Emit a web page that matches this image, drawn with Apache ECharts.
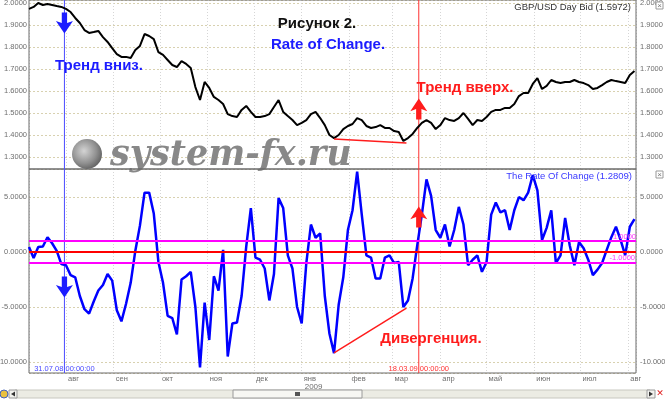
<!DOCTYPE html>
<html>
<head>
<meta charset="utf-8">
<script src="https://cdn.jsdelivr.net/npm/echarts@6/dist/echarts.min.js"></script>
<style>
html, body { margin: 0; padding: 0; background: #fff; }
#chart { width: 665px; height: 400px; }
</style>
</head>
<body>
<div id="chart"></div>
<script>
// one point every 3 calendar days starting 08.07.2008
const startDay = [2008, 6, 8]
const stepDays = 3

const priceValues = [
  1.973, 1.982, 2.000, 1.991, 1.995, 1.991, 1.986, 1.982, 1.973, 1.959,
  1.932, 1.909, 1.877, 1.864, 1.868, 1.873, 1.845, 1.823, 1.795, 1.768,
  1.755, 1.755, 1.750, 1.786, 1.805, 1.859, 1.850, 1.836, 1.777, 1.764,
  1.741, 1.718, 1.709, 1.736, 1.723, 1.705, 1.618, 1.559, 1.641, 1.614,
  1.573, 1.559, 1.541, 1.495, 1.486, 1.482, 1.514, 1.532, 1.505, 1.482,
  1.482, 1.486, 1.495, 1.527, 1.559, 1.505, 1.486, 1.468, 1.445, 1.455,
  1.468, 1.495, 1.505, 1.477, 1.445, 1.400, 1.386, 1.400, 1.427, 1.441,
  1.450, 1.477, 1.468, 1.441, 1.432, 1.436, 1.445, 1.432, 1.432, 1.418,
  1.414, 1.373, 1.386, 1.405, 1.432, 1.455, 1.468, 1.455, 1.427, 1.445,
  1.477, 1.468, 1.464, 1.477, 1.500, 1.473, 1.445, 1.468, 1.464, 1.482,
  1.505, 1.514, 1.514, 1.523, 1.523, 1.541, 1.577, 1.591, 1.591, 1.632,
  1.659, 1.609, 1.623, 1.650, 1.641, 1.636, 1.641, 1.641, 1.650, 1.641,
  1.636, 1.627, 1.609, 1.614, 1.627, 1.641, 1.650, 1.645, 1.641, 1.636,
  1.673, 1.691
]

const rocValues = [
  0.45, -0.55, 0.45, 0.5, 1.35, 0.8, 0.1, -1.1, -1.2, -2.1,
  -2.3, -4.0, -5.2, -5.6, -4.5, -3.5, -3.0, -2.0, -2.6, -5.3,
  -6.3, -4.7, -2.8, 0.1, 2.4, 5.4, 5.4, 3.5, -0.9, -2.8,
  -5.8, -6.0, -7.5, -2.5, -2.2, -1.8, -5.0, -10.5, -4.6, -8.0,
  -2.2, -3.5, 0.2, -9.5, -6.5, -6.4, -4.0, 0.5, 4.0, -0.5,
  -0.7, -1.5, -4.4, -2.0, 4.9, 4.0, -0.3, -1.5, -5.0, -6.5,
  -1.0, 2.5, 1.3, 1.7, -4.0, -7.4, -9.2, -4.8, -2.3, 2.0,
  3.8, 7.3, 3.4, -0.3, -0.5, -2.4, -2.4, -0.5, -0.3, -1.0,
  -0.9, -5.0, -4.4, -2.4, 0.6, 3.4, 6.6, 5.1, 2.0, 1.3,
  2.5, 0.5, 2.0, 4.1, 2.5, -1.2, -0.7, -0.3, -1.8, -0.9,
  3.4, 4.5, 3.6, 3.8, 2.0, 3.8, 5.0, 4.7, 5.4, 7.0,
  5.6, 1.1, 2.2, 3.8, -1.0, -0.3, 3.1, 0.6, -1.2, 0.9,
  0.35, -0.7, -2.1, -1.6, -1.0, 0.2, 1.35, 2.3, 1.1, -0.3,
  2.3, 3.0
]

const monthNames = ['янв', 'фев', 'мар', 'апр', 'май', 'июн', 'июл', 'авг', 'сен', 'окт', 'ноя', 'дек']
const rocLevels = [1, 0, -1]
const priceRange = [1.2455, 2.0136]
const rocRange = [-11, 7.55]

const DAY = 24 * 3600 * 1000
const ts = (y, m, d) => new Date(y, m, d).getTime()
const xMin = ts(2008, 6, 8)
const xMax = ts(2009, 7, 6)
const lineDown = ts(2008, 6, 31)
const lineUp = ts(2009, 2, 18)
const divStart = ts(2009, 0, 22)
const divEnd = ts(2009, 2, 10)

const dates = priceValues.map((_, i) => ts(startDay[0], startDay[1], startDay[2] + stepDays * i))

const axisText = { color: '#6e6e6e', fontSize: 7.5, fontFamily: 'Liberation Sans, Arial' }
const blue = '#1c1cff'
const red = '#ff1c1c'
const arrowDown = 'path://M5.5,0 L10.5,0 L10.5,10 L16,8 L8,20 L0,8 L5.5,10 Z'
const arrowUp = 'path://M8,0 L16,12 L10.5,10 L10.5,20 L5.5,20 L5.5,10 L0,12 Z'

function yAxisFor(gridIndex, range, splitNumber, position) {
  return {
    type: 'value', gridIndex, min: range[0], max: range[1], splitNumber, position,
    axisLine: { show: false }, axisTick: { show: false },
    axisLabel: Object.assign({}, axisText, {
      margin: position === 'left' ? 2 : 4,
      showMinLabel: false, showMaxLabel: false,
      formatter: v => v.toFixed(4)
    }),
    splitLine: { show: position === 'left', lineStyle: { color: '#d8d1b0', type: [2, 2] } }
  }
}

function xAxisFor(gridIndex, withLabels) {
  return {
    type: 'time', gridIndex, min: xMin, max: xMax,
    splitNumber: 13, minInterval: 28 * DAY, maxInterval: 31 * DAY,
    axisLine: { show: false }, axisTick: { show: false },
    axisLabel: withLabels ? Object.assign({}, axisText, {
      align: 'left', verticalAlign: 'top', margin: 2,
      showMinLabel: false, showMaxLabel: false,
      formatter: function (value) {
        const d = new Date(value)
        if (d.getDate() !== 1) return ''
        const m = monthNames[d.getMonth()]
        return d.getMonth() === 0 ? '{m|' + m + '}\n{y|' + d.getFullYear() + '}' : '{m|' + m + '}'
      },
      rich: {
        m: Object.assign({}, axisText, { lineHeight: 8, padding: [0, 0, 0, 2] }),
        y: Object.assign({}, axisText, { fontSize: 8, lineHeight: 8, padding: [0, 0, 0, 3] })
      }
    }) : { show: false },
    splitLine: { show: true, lineStyle: { color: '#d6d6d6', type: [1, 2] } }
  }
}

// vertical date marker as its own little series spanning the pane
function marker(gridIdx, yIdx, value, range, color) {
  return {
    type: 'line', xAxisIndex: gridIdx, yAxisIndex: yIdx, silent: true, z: 3,
    data: [[value, range[0]], [value, range[1]]],
    symbol: 'none', lineStyle: { color, width: 1 }
  }
}

function arrow(coord, symbol, color) {
  return { coord, symbol, symbolSize: [17, 21], itemStyle: { color }, label: { show: false } }
}

function stamp(coord, text, color) {
  return {
    coord, symbol: 'rect', symbolSize: 0,
    label: Object.assign({}, axisText, { show: true, position: 'inside', formatter: text, color })
  }
}

const divStyle = { color: red, width: 1.5, type: 'solid' }

const chart = echarts.init(document.getElementById('chart'))

chart.setOption({
  animation: false,
  backgroundColor: '#fff',
  grid: [
    { left: 29, right: 29, top: 0, height: 169, show: true, borderColor: '#6a6a6a', borderWidth: 1, z: 3, containLabel: false, outerBoundsMode: 'none' },
    { left: 29, right: 29, top: 169, height: 204, show: true, borderColor: '#6a6a6a', borderWidth: 1, z: 3, containLabel: false, outerBoundsMode: 'none' }
  ],
  xAxis: [xAxisFor(0, false), xAxisFor(1, true)],
  yAxis: [
    yAxisFor(0, priceRange, 7, 'left'),
    yAxisFor(0, priceRange, 7, 'right'),
    yAxisFor(1, rocRange, 4, 'left'),
    yAxisFor(1, rocRange, 4, 'right')
  ],
  series: [
    marker(0, 0, lineDown, priceRange, '#4a4aff'),
    marker(0, 0, lineUp, priceRange, '#ff3030'),
    marker(1, 2, lineDown, rocRange, '#4a4aff'),
    marker(1, 2, lineUp, rocRange, '#ff3030'),
    {
      name: 'GBP/USD', type: 'line', xAxisIndex: 0, yAxisIndex: 0, z: 4,
      data: dates.map((d, i) => [d, priceValues[i]]),
      showSymbol: false, symbol: 'none',
      lineStyle: { color: '#000', width: 2 },
      markLine: {
        silent: true, symbol: 'none', lineStyle: { type: 'solid' },
        data: [
          [{ coord: [divStart, 1.382], lineStyle: divStyle, label: { show: false } }, { coord: [divEnd, 1.364] }]
        ]
      },
      markPoint: {
        silent: true,
        data: [
          arrow([lineDown, 1.909], arrowDown, blue),
          arrow([lineUp, 1.518], arrowUp, red)
        ]
      }
    },
    {
      name: 'ROC', type: 'line', xAxisIndex: 1, yAxisIndex: 2, z: 4,
      data: dates.map((d, i) => [d, rocValues[i]]),
      showSymbol: false, symbol: 'none',
      lineStyle: { color: '#0000ff', width: 2.5 },
      markLine: {
        silent: true, symbol: 'none', lineStyle: { type: 'solid' },
        data: [
          {
            yAxis: rocLevels[0], lineStyle: { color: '#ff00ff', width: 2, type: 'solid' },
            label: Object.assign({}, axisText, { show: true, position: 'insideEndTop', distance: 0, formatter: rocLevels[0].toFixed(4), color: '#ff33ff' })
          },
          { yAxis: rocLevels[1], lineStyle: { color: '#ff0000', width: 2, type: 'solid' }, label: { show: false } },
          {
            yAxis: rocLevels[2], lineStyle: { color: '#ff00ff', width: 2, type: 'solid' },
            label: Object.assign({}, axisText, { show: true, position: 'insideEndTop', distance: 1, formatter: rocLevels[2].toFixed(4), color: '#ff33ff' })
          },
          [{ coord: [divStart, -9.18], lineStyle: divStyle, label: { show: false } }, { coord: [divEnd, -5.1] }]
        ]
      },
      markPoint: {
        silent: true,
        data: [
          arrow([lineDown, -3.18], arrowDown, blue),
          arrow([lineUp, 3.18], arrowUp, red),
          stamp([lineDown, -10.6], '31.07.08 00:00:00', '#4a4aff'),
          stamp([lineUp, -10.6], '18.03.09 00:00:00', '#ff3030')
        ]
      }
    }
  ],
  graphic: [
    // watermark
    {
      type: 'circle', z: 1, shape: { cx: 87, cy: 154, r: 15 },
      style: {
        fill: new echarts.graphic.RadialGradient(0.4, 0.4, 0.7, [
          { offset: 0, color: '#d4d4d4' }, { offset: 0.6, color: '#8f8f8f' }, { offset: 1, color: '#555' }
        ])
      }
    },
    {
      type: 'text', z: 1, x: 110, y: 156,
      style: {
        text: 'system-fx.ru', fill: '#888', font: 'italic bold 35px "DejaVu Serif"',
        verticalAlign: 'middle', shadowColor: 'rgba(0,0,0,0.35)', shadowOffsetX: 2, shadowOffsetY: 2, shadowBlur: 2
      }
    },
    // annotations
    { type: 'text', z: 10, x: 317, y: 24, style: { text: 'Рисунок 2.', fill: '#111', font: 'bold 15px "Liberation Sans"', align: 'center', verticalAlign: 'middle' } },
    { type: 'text', z: 10, x: 328, y: 45, style: { text: 'Rate of Change.', fill: blue, font: 'bold 15px "Liberation Sans"', align: 'center', verticalAlign: 'middle' } },
    { type: 'text', z: 10, x: 99, y: 66, style: { text: 'Тренд вниз.', fill: blue, font: 'bold 15px "Liberation Sans"', align: 'center', verticalAlign: 'middle' } },
    { type: 'text', z: 10, x: 465, y: 88, style: { text: 'Тренд вверх.', fill: red, font: 'bold 15px "Liberation Sans"', align: 'center', verticalAlign: 'middle' } },
    { type: 'text', z: 10, x: 431, y: 339, style: { text: 'Дивергенция.', fill: red, font: 'bold 15px "Liberation Sans"', align: 'center', verticalAlign: 'middle' } },
    // pane captions
    { type: 'text', z: 10, x: 631, y: 7, style: { text: 'GBP/USD Day Bid (1.5972)', fill: '#333', font: '9.5px "Liberation Sans"', align: 'right', verticalAlign: 'middle' } },
    { type: 'text', z: 10, x: 632, y: 176, style: { text: 'The Rate Of Change (1.2809)', fill: '#3a3aff', font: '9.5px "Liberation Sans"', align: 'right', verticalAlign: 'middle' } },
    // little window buttons
    { type: 'rect', z: 10, shape: { x: 656, y: 2, width: 7, height: 7 }, style: { fill: '#fff', stroke: '#999' } },
    { type: 'text', z: 11, x: 659.5, y: 5.5, style: { text: '×', fill: '#777', font: '8px "Liberation Sans"', align: 'center', verticalAlign: 'middle' } },
    { type: 'rect', z: 10, shape: { x: 656, y: 171, width: 7, height: 7 }, style: { fill: '#fff', stroke: '#999' } },
    { type: 'text', z: 11, x: 659.5, y: 174.5, style: { text: '×', fill: '#777', font: '8px "Liberation Sans"', align: 'center', verticalAlign: 'middle' } },
    // scrollbar
    { type: 'rect', z: 0, shape: { x: 15, y: 390, width: 635, height: 8 }, style: { fill: '#ecece4', stroke: '#c8c8c0' } },
    { type: 'rect', z: 11, shape: { x: 233, y: 390, width: 129, height: 8 }, style: { fill: '#f7f7f3', stroke: '#9a9a9a' } },
    { type: 'rect', z: 12, shape: { x: 295, y: 392, width: 5, height: 4 }, style: { fill: '#555' } },
    { type: 'rect', z: 11, shape: { x: 9, y: 390, width: 8, height: 8 }, style: { fill: '#f2f2ee', stroke: '#9a9a9a' } },
    { type: 'polygon', z: 12, shape: { points: [[15, 391.5], [15, 396.5], [11, 394]] }, style: { fill: '#333' } },
    { type: 'circle', z: 11, shape: { cx: 4, cy: 394, r: 4 }, style: { fill: '#e8c040', stroke: '#4060c0' } },
    { type: 'rect', z: 11, shape: { x: 647, y: 390, width: 8, height: 8 }, style: { fill: '#f2f2ee', stroke: '#9a9a9a' } },
    { type: 'polygon', z: 12, shape: { points: [[649, 391.5], [649, 396.5], [653, 394]] }, style: { fill: '#333' } },
    { type: 'text', z: 12, x: 660, y: 394, style: { text: '✕', fill: '#e02020', font: 'bold 9px "DejaVu Sans"', align: 'center', verticalAlign: 'middle' } }
  ]
})
</script>
</body>
</html>
